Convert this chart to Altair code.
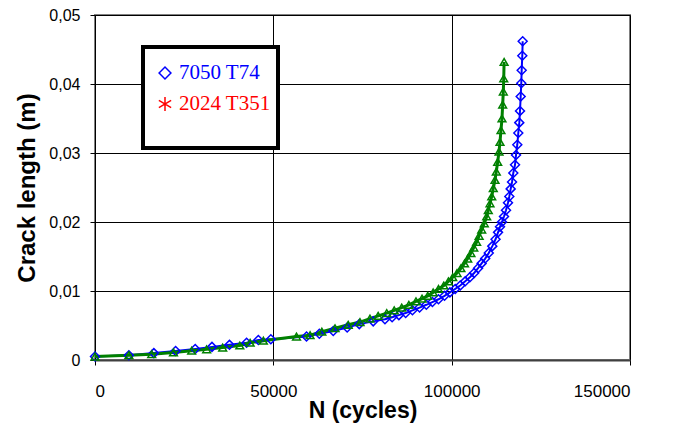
import altair as alt
import pandas as pd

# 7050 T74 (blue diamonds)
n_7050 = [0, 9500, 16500, 22600, 28100, 32800, 37700, 42500, 45800, 49300,
          59300, 62900, 66800, 70700, 74100, 78000, 81300, 83300, 85200, 87100,
          89000, 91000, 92900, 94600, 96300, 98000, 99500, 101000, 102400, 103800,
          105100, 106300, 107400, 108400, 109400, 110400, 111400, 112300, 113000, 113550,
          114110, 114670, 115230, 115790, 116160, 116550, 116920, 117280, 117760, 118040,
          118400, 118680, 118960, 119160, 119350, 119520, 119630, 119800, 119910]
a_7050 = [0.0005, 0.0007, 0.0010, 0.0013, 0.0016, 0.0019, 0.0022, 0.0025, 0.0029, 0.0030,
          0.0034, 0.0038, 0.0042, 0.0047, 0.0052, 0.0056, 0.0059, 0.0062, 0.0065, 0.0068,
          0.0072, 0.0076, 0.0080, 0.0084, 0.0088, 0.0093, 0.0098, 0.0103, 0.0108, 0.0114,
          0.0120, 0.0126, 0.0133, 0.0140, 0.0147, 0.0155, 0.0165, 0.0175, 0.0185, 0.0193,
          0.0200, 0.0208, 0.0217, 0.0228, 0.0237, 0.0248, 0.0258, 0.0271, 0.0283, 0.0297,
          0.0312, 0.0329, 0.0344, 0.0361, 0.0382, 0.0401, 0.0420, 0.0441, 0.0462]

# 2024 T351 (green triangles)
n_2024 = [0, 9500, 15900, 22000, 27100, 31300, 35800, 40600, 43500, 47200,
          56500, 60300, 63600, 67300, 71000, 74300, 77100, 79400, 81800, 83900,
          86000, 88000, 90000, 91700, 93300, 94800, 96300, 97800, 99100, 100300,
          101500, 102600, 103600, 104500, 105400, 106200, 107000, 107700, 108420, 109150,
          109820, 110270, 110750, 111230, 111670, 112150, 112510, 112900, 113270, 113550,
          113830, 114110, 114300, 114480, 114600, 114700]
a_2024 = [0.0005, 0.0007, 0.00085, 0.0011, 0.00135, 0.00155, 0.0018, 0.0021, 0.0025, 0.0028,
          0.0034, 0.0036, 0.0041, 0.0046, 0.0051, 0.0055, 0.0060, 0.0064, 0.0068, 0.0072,
          0.0076, 0.0080, 0.0085, 0.0089, 0.0093, 0.0098, 0.0103, 0.0108, 0.0114, 0.0120,
          0.0126, 0.0133, 0.0140, 0.0147, 0.0155, 0.0163, 0.0171, 0.0180, 0.0189, 0.0198,
          0.0208, 0.0217, 0.0227, 0.0237, 0.0249, 0.0261, 0.0273, 0.0287, 0.0302, 0.0316,
          0.0333, 0.0350, 0.0370, 0.0389, 0.0408, 0.0432]

legend_labels = ["7050 T74", "2024 T351"]
x_ticks = [0, 50000, 100000, 150000]
y_ticks = [0, 0.01, 0.02, 0.03, 0.04, 0.05]

BLUE = "#0000FF"
GREEN = "#008000"
RED = "#FF0000"

df_b = pd.DataFrame({"N": n_7050, "a": a_7050, "i": range(len(n_7050))})
df_g = pd.DataFrame({"N": n_2024, "a": a_2024, "i": range(len(n_2024))})

xs = alt.Scale(domain=[0, 150000], nice=False, zero=False)
ys = alt.Scale(domain=[0, 0.05], nice=False)

x_enc = alt.X("N:Q", scale=xs, axis=alt.Axis(
    values=x_ticks, format="d", title="N (cycles)", grid=True,
    gridColor="#000000", gridWidth=1, domainColor="#404040", domainWidth=2,
    tickColor="#000000", tickSize=5, labelPadding=18, labelFontSize=17,
    labelFont="Liberation Sans", labelColor="#000000",
    titleFont="Liberation Sans", titleFontSize=23, titleFontWeight="bold",
    titleColor="#000000", titlePadding=0))
y_enc = alt.Y("a:Q", scale=ys, axis=alt.Axis(
    values=y_ticks, title="Crack length (m)", grid=True,
    gridColor="#000000", gridWidth=1, domainColor="#000000", domainWidth=1,
    tickColor="#000000", tickSize=5, labelPadding=10, labelFontSize=16,
    labelFont="Liberation Sans", labelColor="#000000",
    labelExpr="datum.value == 0 ? '0' : replace(format(datum.value, '.2f'), '.', ',')",
    titleFont="Liberation Sans", titleFontSize=24, titleFontWeight="bold",
    titleColor="#000000", titlePadding=9))

line_b = alt.Chart(df_b).mark_line(color=BLUE, strokeWidth=2).encode(x=x_enc, y=y_enc, order="i:Q")
line_g = alt.Chart(df_g).mark_line(color=GREEN, strokeWidth=3).encode(x=x_enc, y=y_enc, order="i:Q")
pts_b = alt.Chart(df_b).mark_point(shape="diamond", filled=False, color=BLUE, size=80,
                                   strokeWidth=1.5, opacity=1).encode(x=x_enc, y=y_enc)
pts_g = alt.Chart(df_g).mark_point(shape="triangle-up", filled=False, color=GREEN, size=60,
                                   strokeWidth=1.5, opacity=1).encode(x=x_enc, y=y_enc)

# legend box
leg_df = pd.DataFrame({"label": legend_labels})
box = alt.Chart(leg_df.head(1)).mark_rect(fill="white", stroke="black", strokeWidth=4).encode(
    x=alt.value(48), x2=alt.value(183), y=alt.value(32), y2=alt.value(133))
sym1 = alt.Chart(leg_df.head(1)).mark_point(shape="diamond", filled=False, color=BLUE,
                                            size=140, strokeWidth=1.5, opacity=1).encode(
    x=alt.value(70), y=alt.value(58))
sym2 = alt.Chart(leg_df.head(1)).mark_point(
    shape="M-1,0L1,0M-0.5,-0.87L0.5,0.87M-0.5,0.87L0.5,-0.87", filled=False, color=RED,
    size=200, strokeWidth=1.5, opacity=1, angle=90).encode(x=alt.value(70), y=alt.value(89))
txt1 = alt.Chart(pd.DataFrame({"label": [legend_labels[0]]})).mark_text(
    align="left", baseline="middle", font="Liberation Serif", fontSize=21, color=BLUE).encode(
    x=alt.value(84), y=alt.value(58), text="label:N")
txt2 = alt.Chart(pd.DataFrame({"label": [legend_labels[1]]})).mark_text(
    align="left", baseline="middle", font="Liberation Serif", fontSize=21, color=RED).encode(
    x=alt.value(84), y=alt.value(89), text="label:N")

chart = alt.layer(line_b, line_g, pts_b, pts_g, box, sym1, sym2, txt1, txt2).properties(
    width=535, height=345,
    autosize=alt.AutoSizeParams(type="none"),
    padding={"left": 87, "top": 7, "right": 36, "bottom": 66},
    background="white",
).configure_view(stroke="#808080", strokeWidth=2)

chart.save("out.html", embed_options={"renderer": "svg", "actions": False})
